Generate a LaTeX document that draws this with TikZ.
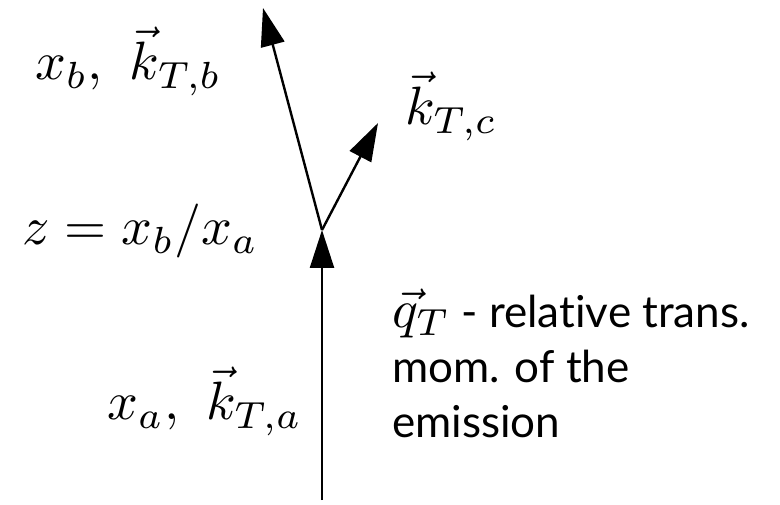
\documentclass[tikz,border=0pt]{standalone}
\usepackage{graphicx}
\usepackage{fontspec}
\setsansfont{Lato}[Ligatures={NoCommon}]
\usetikzlibrary{arrows.meta}
\newcommand{\scaledmath}[1]{\scalebox{5.4}{\fontsize{10}{12}\selectfont$#1$}}
\begin{document}
\begin{tikzpicture}[x=1pt,y=-1pt,
  vec/.style={line width=2.4pt,-{Triangle[length=38pt,width=24pt]}},
  mlabel/.style={anchor=base west,inner sep=0pt},
  tlabel/.style={anchor=base west,inner sep=0pt,align=left,font=\fontsize{44}{55}\selectfont\sffamily}]
\useasboundingbox (0,0) rectangle (780,505);
\coordinate (bot) at (322,500);
\coordinate (v) at (322,230);
\coordinate (tb) at (263,8);
\coordinate (tc) at (378,123);
\draw[vec] (bot) -- (v);
\draw[vec] (v) -- (tb);
\draw[vec] (v) -- (tc);
\node[mlabel] (lb) at (35,80) {\scaledmath{x_b,\ \vec{k}_{T,b}}};
\node[mlabel] (lc) at (405,125) {\scaledmath{\vec{k}_{T,c}}};
\node[mlabel] (lz) at (22,245) {\scaledmath{z = x_b/x_a}};
\node[mlabel] (la) at (107,420) {\scaledmath{x_a,\ \vec{k}_{T,a}}};
\node[tlabel] (lq) at (392,437) {\scaledmath{\vec{q}_T} - relative trans.\\mom. of the\\emission};
\end{tikzpicture}
\end{document}
